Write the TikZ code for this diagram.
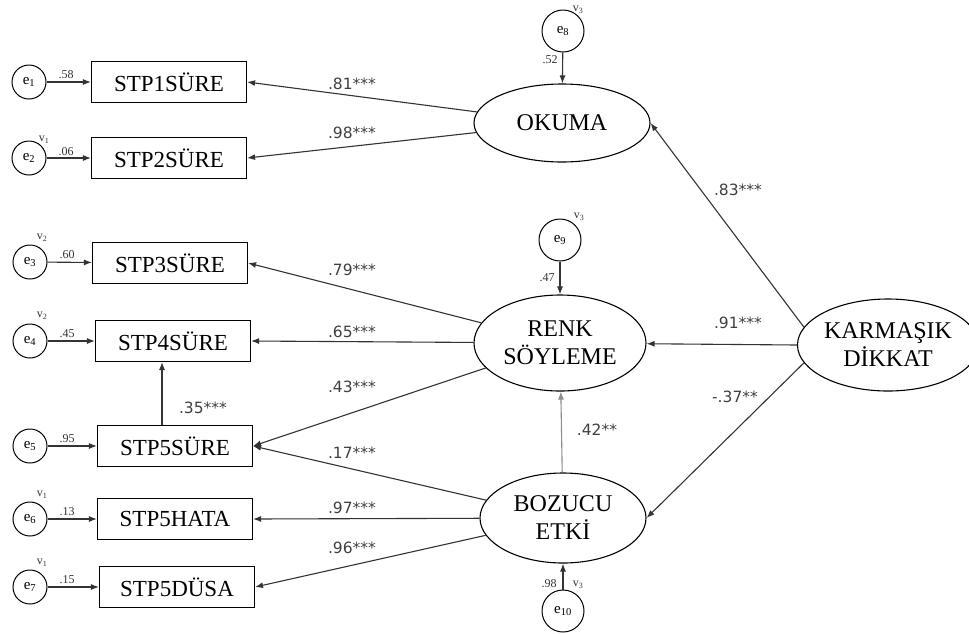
\documentclass[tikz,border=0pt]{standalone}
\usepackage{fontspec}
\setmainfont{Liberation Serif}
\newfontfamily\coeffont{DejaVu Sans}
\usetikzlibrary{shapes.geometric,arrows.meta,calc}
\begin{document}
\begin{tikzpicture}[x=1pt,y=-1pt,
 obs/.style={draw,line width=1.1pt,minimum width=155pt,minimum height=41pt,inner sep=0pt,font=\fontsize{23}{26}\selectfont},
 lat/.style={draw,ellipse,line width=1.1pt,inner sep=0pt,align=center,font=\fontsize{24}{28}\selectfont},
 err/.style={draw,circle,line width=1pt,minimum size=34pt,inner sep=0pt,font=\fontsize{15}{17}\selectfont},
 errb/.style={err,minimum size=42pt},
 arr/.style={-{Latex[length=8pt,width=6pt]},line width=1.1pt,draw=black!80},
 coef/.style={font=\coeffont\fontsize{15.5}{17}\selectfont,text=black!75,inner sep=0pt},
 small/.style={font=\fontsize{12}{13}\selectfont,inner sep=0pt,text=black!80},
]
\useasboundingbox (0,0) rectangle (969,633);

% observed variables
\node[obs] (s1) at (169,82) {STP1SÜRE};
\node[obs] (s2) at (169,158) {STP2SÜRE};
\node[obs] (s3) at (170,263) {STP3SÜRE};
\node[obs] (s4) at (173,341) {STP4SÜRE};
\node[obs] (s5) at (175,446) {STP5SÜRE};
\node[obs] (s6) at (175,519) {STP5HATA};
\node[obs] (s7) at (177,587) {STP5DÜSA};

% error terms
\node[err] (e1) at (29,82) {e\textsubscript{1}};
\node[err] (e2) at (29,158) {e\textsubscript{2}};
\node[err] (e3) at (30,262) {e\textsubscript{3}};
\node[err] (e4) at (30,341) {e\textsubscript{4}};
\node[err] (e5) at (30,446) {e\textsubscript{5}};
\node[err] (e6) at (30,519) {e\textsubscript{6}};
\node[err] (e7) at (30,587) {e\textsubscript{7}};

% latent variables
\node[lat,minimum width=176pt,minimum height=78pt] (ok) at (562,123) {OKUMA};
\node[lat,minimum width=172pt,minimum height=96pt] (rs) at (560,343) {RENK\\SÖYLEME};
\node[lat,minimum width=166pt,minimum height=90pt] (be) at (563,518) {BOZUCU\\ETKİ};
\node[lat,minimum width=160pt,minimum height=92pt] (kd) at (888,345) {KARMAŞIK\\DİKKAT};

\node[errb] (e8) at (563,31) {e\textsubscript{8}};
\node[errb] (e9) at (560,240) {e\textsubscript{9}};
\node[errb] (e10) at (563,611) {e\textsubscript{10}};

% error arrows
\foreach \i in {1,...,7} {\draw[arr] (e\i) -- (s\i);}
\draw[arr] (e8) -- (ok);
\draw[arr] (e9) -- (rs);
\draw[arr] (e10) -- (be);

\node[small] (l1) at (66,75) {.58};
\node[small] (l2) at (66,152) {.06};
\node[small] (l3) at (67,255) {.60};
\node[small] (l4) at (67,334) {.45};
\node[small] (l5) at (67,439) {.95};
\node[small] (l6) at (67,512) {.13};
\node[small] (l7) at (67,580) {.15};
\node[small] (v2) at (44,140) {v\textsubscript{1}};
\node[small] (v3) at (42,238) {v\textsubscript{2}};
\node[small] (v4) at (42,316) {v\textsubscript{2}};
\node[small] (v6) at (42,495) {v\textsubscript{1}};
\node[small] (v7) at (42,563) {v\textsubscript{1}};

\node[small] (l8) at (550,60) {.52};
\node[small] (v8) at (578,10) {v\textsubscript{3}};
\node[small] (l9) at (547,278) {.47};
\node[small] (v9) at (579,217) {v\textsubscript{3}};
\node[small] (l10) at (549,584) {.98};
\node[small] (v10) at (578,585) {v\textsubscript{3}};

% loadings
\draw[arr] (ok) -- (s1.east);
\draw[arr] (ok) -- (s2.east);
\draw[arr] (rs) -- (s3.east);
\draw[arr] (rs) -- (s4.east);
\draw[arr] (rs) -- (s5.east);
\draw[arr] (be) -- (s5.east);
\draw[arr] (be) -- (s6.east);
\draw[arr] (be) -- (s7.east);

\node[coef] (c1) at (352,84) {.81***};
\node[coef] (c2) at (352,133) {.98***};
\node[coef] (c3) at (352,270) {.79***};
\node[coef] (c4) at (352,332) {.65***};
\node[coef] (c5) at (352,387) {.43***};
\node[coef] (c6) at (352,453) {.17***};
\node[coef] (c7) at (352,508) {.97***};
\node[coef] (c8) at (352,548) {.96***};

% structural paths
\coordinate (p5) at ($(s5.north)+(-13,0)$);
\coordinate (p4) at ($(s4.south)+(-10,0)$);
\draw[arr] (p5) -- (p5 |- p4);
\node[coef] (c9) at (203,408) {.35***};

\draw[arr,draw=black!45] (be) -- (rs);
\node[coef] (c10) at (597,430) {.42**};

\draw[arr] (kd.168) -- (ok.east);
\draw[arr] (kd.west) -- (rs);
\draw[arr] (kd.192) -- (be.east);
\node[coef] (c11) at (738,190) {.83***};
\node[coef] (c12) at (738,323) {.91***};
\node[coef] (c13) at (735,397) {-.37**};
\end{tikzpicture}
\end{document}
